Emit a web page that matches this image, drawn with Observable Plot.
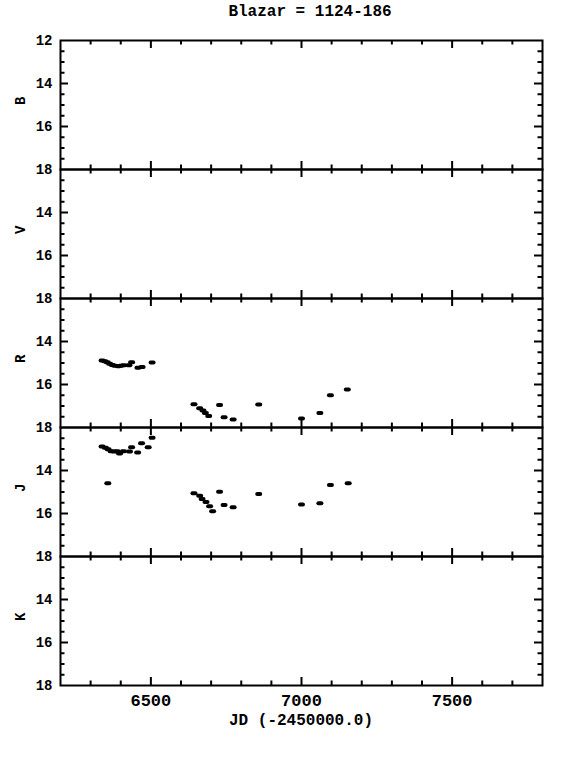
<!DOCTYPE html>
<html>
<head>
<meta charset="utf-8">
<script src="https://cdn.jsdelivr.net/npm/d3@7"></script>
<script src="https://cdn.jsdelivr.net/npm/@observablehq/plot@0.6"></script>
<style>
  html, body { margin: 0; padding: 0; background: white; }
  #wrap { position: relative; width: 572px; height: 762px; overflow: hidden; background: white; }
  .panel { position: absolute; left: 0; }
  .txt { position: absolute; font-family: "Liberation Mono", "DejaVu Sans Mono", monospace; font-weight: bold; color: black; white-space: nowrap; }
</style>
</head>
<body>
<div id="wrap"></div>
<script>
// ---- data ----
const title = "Blazar = 1124-186";
const xLabel = "JD (-2450000.0)";
const bands = ["B", "V", "R", "J", "K"];
const xDomain = [6200, 7800];
const yDomain = [12, 18];
const xMajor = [6500, 7000, 7500];
const xMinor = [6300, 6400, 6600, 6700, 6800, 6900, 7100, 7200, 7300, 7400, 7600, 7700];
const yMajor = [14, 16];
const yMinor = [12.5, 13, 13.5, 14.5, 15, 15.5, 16.5, 17, 17.5];
const yLabelsTop = [12, 14, 16, 18];
const yLabels = [14, 16, 18];

const jdB = [], magB = [];
const jdV = [], magV = [];
const jdK = [], magK = [];
const jdR = [6338, 6347, 6355, 6363, 6372, 6380, 6392, 6400, 6410, 6427, 6436, 6457, 6471, 6504,
             6643, 6662, 6673, 6681, 6692, 6728, 6743, 6773, 6858, 7000, 7061, 7096, 7152];
const magR = [14.88, 14.92, 14.96, 15.04, 15.09, 15.13, 15.15, 15.13, 15.10, 15.10, 14.96, 15.22, 15.19, 14.98,
              16.92, 17.10, 17.21, 17.32, 17.47, 16.95, 17.52, 17.63, 16.93, 17.58, 17.32, 16.50, 16.23];
const jdJ = [6338, 6349, 6358, 6368, 6378, 6388, 6396, 6409, 6429, 6436, 6456, 6469, 6491, 6504, 6357,
             6643, 6662, 6670, 6683, 6695, 6705, 6728, 6743, 6773, 6858, 7000, 7061, 7096, 7155];
const magJ = [12.88, 12.94, 13.01, 13.10, 13.12, 13.10, 13.21, 13.10, 13.12, 12.92, 13.16, 12.73, 12.92, 12.48, 14.59,
              15.06, 15.18, 15.33, 15.47, 15.66, 15.89, 14.99, 15.60, 15.71, 15.09, 15.58, 15.52, 14.68, 14.59];

const series = {
  B: [jdB, magB], V: [jdV, magV], R: [jdR, magR], J: [jdJ, magJ], K: [jdK, magK]
};

// ---- layout ----
const W = 572, ML = 60, MR = 30, PH = 129, TOP0 = 40, M = 20, MB_LAST = 60;
const PW = W - ML - MR;
const FONT = "Liberation Mono, DejaVu Sans Mono, monospace";

const capsule = {
  draw(ctx) {
    ctx.moveTo(-1.5, -2);
    ctx.lineTo(1.5, -2);
    ctx.arc(1.5, 0, 2, -Math.PI / 2, Math.PI / 2);
    ctx.lineTo(-1.5, 2);
    ctx.arc(-1.5, 0, 2, Math.PI / 2, 3 * Math.PI / 2);
    ctx.closePath();
  }
};

const wrap = document.getElementById("wrap");

bands.forEach((band, i) => {
  const last = i === bands.length - 1;
  const mb = last ? MB_LAST : M;
  const [jd, mag] = series[band];
  const pts = jd.map((d, k) => ({jd: d, mag: mag[k]}));
  const marks = [
    Plot.frame({stroke: "black", strokeWidth: 2}),
    // x ticks, top and bottom, pointing inward
    Plot.tickX(xMinor, {x: d => d, insetBottom: PH - 4.5, stroke: "black", strokeWidth: 2}),
    Plot.tickX(xMinor, {x: d => d, insetTop: PH - 4.5, stroke: "black", strokeWidth: 2}),
    Plot.tickX(xMajor, {x: d => d, insetBottom: PH - 8, stroke: "black", strokeWidth: 2}),
    Plot.tickX(xMajor, {x: d => d, insetTop: PH - 8, stroke: "black", strokeWidth: 2}),
    // y ticks, left and right, pointing inward
    Plot.tickY(yMinor, {y: d => d, insetRight: PW - 4.5, stroke: "black", strokeWidth: 2}),
    Plot.tickY(yMinor, {y: d => d, insetLeft: PW - 4.5, stroke: "black", strokeWidth: 2}),
    Plot.tickY(yMajor, {y: d => d, insetRight: PW - 8, stroke: "black", strokeWidth: 2}),
    Plot.tickY(yMajor, {y: d => d, insetLeft: PW - 8, stroke: "black", strokeWidth: 2}),
    Plot.axisY(i === 0 ? yLabelsTop : yLabels, {
      anchor: "left", tickSize: 0, tickPadding: 8, label: null, tickFormat: d => String(d),
      fontSize: 14, fontWeight: "bold", fontFamily: FONT, fill: "black"
    }),
    Plot.text([band], {
      text: d => d, frameAnchor: "left", dx: -40, rotate: -90,
      fontSize: 14, fontWeight: "bold", fontFamily: FONT, fill: "black"
    }),
    Plot.dot(pts, {x: "jd", y: "mag", symbol: capsule, fill: "black", stroke: "none"})
  ];
  if (last) {
    marks.push(Plot.axisX(xMajor, {
      anchor: "bottom", tickSize: 0, tickPadding: 8, label: null, tickFormat: d => String(d),
      fontSize: 17, fontWeight: "bold", fontFamily: FONT, fill: "black"
    }));
  }
  const svg = Plot.plot({
    width: W,
    height: PH + M + mb,
    marginLeft: ML, marginRight: MR, marginTop: M, marginBottom: mb,
    x: {domain: xDomain, axis: null},
    y: {domain: yDomain, reverse: true, axis: null},
    style: {background: "transparent", overflow: "visible", color: "black"},
    marks
  });
  svg.classList.add("panel");
  svg.style.top = (TOP0 + PH * i - M) + "px";
  svg.style.position = "absolute";
  svg.style.left = "0px";
  wrap.appendChild(svg);
});

const t = document.createElement("div");
t.className = "txt";
t.textContent = title;
t.style.fontSize = "16px";
t.style.left = "310px";
t.style.top = "3px";
t.style.transform = "translateX(-50%)";
wrap.appendChild(t);

const xl = document.createElement("div");
xl.className = "txt";
xl.textContent = xLabel;
xl.style.fontSize = "16px";
xl.style.left = "301px";
xl.style.top = "712px";
xl.style.transform = "translateX(-50%)";
wrap.appendChild(xl);
</script>
</body>
</html>
